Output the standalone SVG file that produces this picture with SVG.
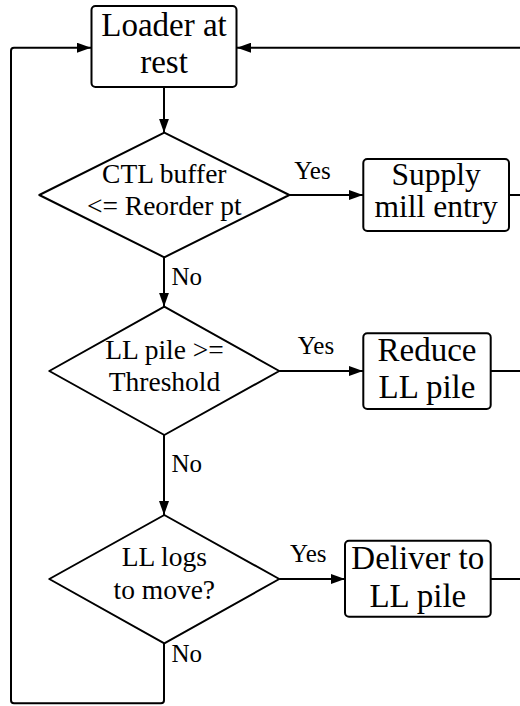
<svg xmlns="http://www.w3.org/2000/svg" width="520" height="706" viewBox="0 0 520 706">
<style>
.shape{fill:#fff;stroke:#000;stroke-width:2;stroke-linejoin:round}
.edge{fill:none;stroke:#000;stroke-width:2}
text{font-family:"Liberation Serif",serif;fill:#000}
.bx{font-size:33px;text-anchor:middle}
.bs{font-size:31.5px;text-anchor:middle}
.dm{font-size:27.5px;text-anchor:middle}
.lb{font-size:25px;text-anchor:middle}
.lbl{font-size:25px;text-anchor:start}
</style>
<defs>
<marker id="ah" markerUnits="userSpaceOnUse" markerWidth="14" markerHeight="10" refX="14" refY="5" orient="auto">
<path d="M0,0 L14,5 L0,10 z" fill="#000"/>
</marker>
</defs>
<rect width="520" height="706" fill="#fff"/>
<g id="connectors">
<path class="edge" d="M520,47.7 H237" marker-end="url(#ah)"/>
<path class="edge" d="M164,643.3 V700.3 Q164,703.3 161,703.3 H14 Q11,703.3 11,700.3 V50.7 Q11,47.7 14,47.7 H91" marker-end="url(#ah)"/>
<path class="edge" d="M164,87 V132.7" marker-end="url(#ah)"/>
<path class="edge" d="M289.3,195 H363" marker-end="url(#ah)"/>
<path class="edge" d="M509,195 H520"/>
<path class="edge" d="M164,257.3 V306.7" marker-end="url(#ah)"/>
<path class="edge" d="M279.3,371 H363" marker-end="url(#ah)"/>
<path class="edge" d="M490.7,371 H520"/>
<path class="edge" d="M164,435 V515" marker-end="url(#ah)"/>
<path class="edge" d="M279.3,579 H345" marker-end="url(#ah)"/>
<path class="edge" d="M490.7,579 H520"/>
<text class="lb" x="312.5" y="179">Yes</text>
<text class="lbl" x="171.5" y="285">No</text>
<text class="lb" x="316" y="354">Yes</text>
<text class="lbl" x="171.5" y="471.7">No</text>
<text class="lb" x="308.3" y="561.7">Yes</text>
<text class="lbl" x="171.5" y="661.7">No</text>
</g>
<g id="loader">
<rect class="shape" x="91.5" y="6" width="145" height="81" rx="4"/>
<text class="bx" x="164" y="36">Loader at</text>
<text class="bx" x="164" y="73">rest</text>
</g>
<g id="ctl">
<polygon class="shape" points="164.3,132.7 289.3,195 164.3,257.3 39.3,195"/>
<text class="dm" x="164.3" y="182.7">CTL buffer</text>
<text class="dm" x="164.3" y="215">&lt;= Reorder pt</text>
</g>
<g id="supply">
<rect class="shape" x="363.3" y="159" width="145.7" height="72" rx="4"/>
<text class="bs" x="436.2" y="185">Supply</text>
<text class="bs" x="436.2" y="217">mill entry</text>
</g>
<g id="llpile">
<polygon class="shape" points="164.3,306.7 279.3,371 164.3,435 49.3,371"/>
<text class="dm" x="164.5" y="359.3">LL pile &gt;=</text>
<text class="dm" x="164.5" y="390.7">Threshold</text>
</g>
<g id="reduce">
<rect class="shape" x="363.3" y="333.3" width="127.4" height="75.7" rx="4"/>
<text class="bx" x="427" y="361">Reduce</text>
<text class="bx" x="427" y="398">LL pile</text>
</g>
<g id="logs">
<polygon class="shape" points="164.3,515 279.3,579 164.3,643.3 49.3,579"/>
<text class="dm" x="164.3" y="566">LL logs</text>
<text class="dm" x="164.3" y="599.3">to move?</text>
</g>
<g id="deliver">
<rect class="shape" x="345" y="540.7" width="145.7" height="76" rx="4"/>
<text class="bx" x="417.8" y="569.3">Deliver to</text>
<text class="bx" x="417.8" y="606.7">LL pile</text>
</g>
</svg>
